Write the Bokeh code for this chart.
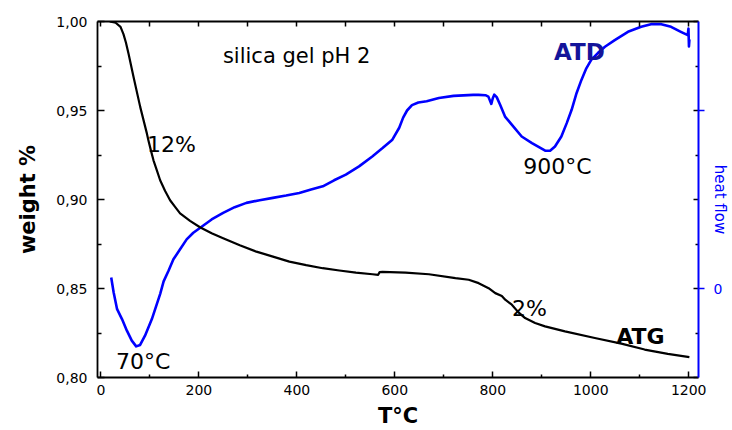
from bokeh.plotting import figure
from bokeh.models import Range1d, LinearAxis, FixedTicker, Label
from bokeh.embed import file_html
from bokeh.resources import INLINE

# ---------------- data ----------------
temp_ticks = [0, 200, 400, 600, 800, 1000, 1200]
temp_minor = [100, 300, 500, 700, 900, 1100]
temp_tick_labels = ["0", "200", "400", "600", "800", "1000", "1200"]
top_ticks = [0, 100, 200, 300, 400, 500, 600, 700, 800, 900, 1000, 1100, 1200]

weight_ticks = [0.80, 0.85, 0.90, 0.95, 1.00]
weight_minor = [0.825, 0.875, 0.925, 0.975]
weight_tick_labels = ["0,80", "0,85", "0,90", "0,95", "1,00"]

heat_ticks = [0, 1]
heat_tick_labels = ["0", ""]

# ATG (weight fraction vs temperature)
atg_T = [18, 30, 40, 46, 51, 56.5, 66.7, 80.3, 93.9, 97, 102, 107.3, 114.2, 120.9, 131.1,
         141.2, 151.4, 161.6, 181.9, 202.2, 226, 249.5, 283.5, 317.4, 351.2, 384.7, 419,
         452.8, 486.7, 520.6, 554.4, 566, 569, 574.7, 622, 669.6, 723.8, 750.9, 771.2,
         791.5, 805.1, 818.5, 825.4, 838.9, 852.5, 866, 886.4, 906.7, 947.4, 1008.3,
         1062.4, 1110, 1157.3, 1201.4]
atg_w = [1.000, 0.9993, 0.9970, 0.9929, 0.9882, 0.9818, 0.9687, 0.9519, 0.9370, 0.9332,
         0.9276, 0.9220, 0.9164, 0.9108, 0.9048, 0.8996, 0.8959, 0.8922, 0.8880, 0.8844,
         0.8810, 0.8782, 0.8743, 0.8707, 0.8679, 0.8651, 0.8631, 0.8614, 0.8601, 0.8589,
         0.8580, 0.8577, 0.8592, 0.8593, 0.8589, 0.8580, 0.8558, 0.8549, 0.8530, 0.8502,
         0.8474, 0.8458, 0.8437, 0.8409, 0.8366, 0.8334, 0.8306, 0.8287, 0.8259, 0.8222,
         0.8190, 0.8157, 0.8133, 0.8114]

# ATD (heat flow, arbitrary units)
atd_T = [21, 26, 33, 43, 53, 63, 72, 80, 90, 104, 121, 128, 138, 148, 161.6, 175, 188.6,
         205.6, 226, 249.5, 273, 297, 324, 351, 378, 405, 429, 453, 476, 500, 527, 554,
         575, 595, 609, 617, 625, 635, 648, 665, 690, 720, 760, 771, 785, 791, 797, 800,
         803, 808, 815, 825, 859, 880, 907, 917, 927, 940, 951, 961, 971, 981, 991, 1001,
         1015, 1029, 1049, 1076, 1103, 1123, 1144, 1164, 1184, 1198, 1199.5, 1200.5, 1201.5]
atd_h = [0.062, -0.022, -0.116, -0.172, -0.237, -0.293, -0.325, -0.317, -0.265, -0.172,
         -0.030, 0.040, 0.100, 0.164, 0.220, 0.276, 0.313, 0.347, 0.388, 0.425, 0.457,
         0.481, 0.496, 0.509, 0.522, 0.537, 0.556, 0.574, 0.608, 0.640, 0.686, 0.742,
         0.789, 0.836, 0.903, 0.960, 1.000, 1.030, 1.045, 1.052, 1.070, 1.082, 1.088,
         1.088, 1.086, 1.078, 1.037, 1.069, 1.089, 1.075, 1.032, 0.966, 0.854, 0.817,
         0.774, 0.774, 0.798, 0.854, 0.929, 1.004, 1.097, 1.172, 1.237, 1.284, 1.324,
         1.358, 1.395, 1.442, 1.470, 1.485, 1.485, 1.470, 1.442, 1.423, 1.460, 1.360, 1.400]

annot_texts = ["silica gel pH 2", "12%", "900°C", "2%", "70°C"]

FONT = "DejaVu Sans"
BLUE = "#0000ff"

# ---------------- figure ----------------
p = figure(width=732, height=430, x_range=Range1d(-7, 1220), y_range=Range1d(0.80, 1.00),
           output_backend="svg", toolbar_location=None,
           x_axis_location=None, y_axis_location=None)
p.extra_y_ranges = {"heat": Range1d(-0.5, 1.5)}
p.grid.visible = False
p.outline_line_color = None
p.background_fill_color = "white"
p.border_fill_color = "white"
p.min_border_left = 97
p.min_border_right = 31
p.min_border_top = 21
p.min_border_bottom = 52

# bottom axis
xb = LinearAxis(ticker=FixedTicker(ticks=temp_ticks, minor_ticks=temp_minor),
                major_label_overrides=dict(zip(temp_ticks, temp_tick_labels)))
xb.axis_label = "T°C"
xb.axis_label_text_font = FONT
xb.axis_label_text_font_style = "bold"
xb.axis_label_text_font_size = "21px"
xb.axis_label_text_color = "black"
xb.axis_label_standoff = 6
xb.major_label_text_font = FONT
xb.major_label_text_font_size = "14px"
xb.major_label_text_color = "black"
xb.major_label_standoff = 7
xb.major_tick_in = 6
xb.major_tick_out = 0
xb.minor_tick_in = 3
xb.minor_tick_out = 0
xb.axis_line_width = 1.8
xb.major_tick_line_width = 1.5
xb.minor_tick_line_width = 1.5
p.add_layout(xb, "below")

# top axis (mirror ticks)
xt = LinearAxis(ticker=FixedTicker(ticks=top_ticks, minor_ticks=[]),
                major_label_overrides={t: "" for t in top_ticks})
xt.major_label_text_font_size = "0px"
xt.major_label_standoff = 0
xt.major_tick_in = 5
xt.major_tick_out = 0
xt.axis_line_width = 1.8
xt.major_tick_line_width = 1.5
p.add_layout(xt, "above")

# left axis
yl = LinearAxis(ticker=FixedTicker(ticks=weight_ticks, minor_ticks=weight_minor),
                major_label_overrides=dict(zip(weight_ticks, weight_tick_labels)))
yl.axis_label = "weight %"
yl.axis_label_text_font = FONT
yl.axis_label_text_font_style = "bold"
yl.axis_label_text_font_size = "21px"
yl.axis_label_text_color = "black"
yl.axis_label_standoff = 13
yl.major_label_text_font = FONT
yl.major_label_text_font_size = "14px"
yl.major_label_text_color = "black"
yl.major_label_standoff = 10
yl.major_tick_in = 7
yl.major_tick_out = 0
yl.minor_tick_in = 4
yl.minor_tick_out = 0
yl.axis_line_width = 1.8
yl.major_tick_line_width = 1.5
yl.minor_tick_line_width = 1.5
p.add_layout(yl, "left")

# right mirror ticks (black, inward)
yr0 = LinearAxis(ticker=FixedTicker(ticks=weight_ticks, minor_ticks=weight_minor),
                 major_label_overrides={t: "" for t in weight_ticks})
yr0.major_label_text_font_size = "0px"
yr0.major_label_standoff = 0
yr0.axis_line_color = None
yr0.major_tick_in = 5
yr0.major_tick_out = 0
yr0.minor_tick_in = 3
yr0.minor_tick_out = 0
yr0.major_tick_line_width = 1.5
yr0.minor_tick_line_width = 1.5
p.add_layout(yr0, "right")

# right heat-flow axis (blue)
yr = LinearAxis(y_range_name="heat", ticker=FixedTicker(ticks=heat_ticks, minor_ticks=[]),
                major_label_overrides=dict(zip(heat_ticks, heat_tick_labels)))
yr.axis_label = "heat flow"
yr.axis_label_text_font = FONT
yr.axis_label_text_font_style = "normal"
yr.axis_label_text_font_size = "15px"
yr.axis_label_text_color = BLUE
yr.axis_label_standoff = -14
yr.major_label_text_font = FONT
yr.major_label_text_font_size = "14px"
yr.major_label_text_color = BLUE
yr.major_label_standoff = 9
yr.major_tick_in = 0
yr.major_tick_out = 6
yr.axis_line_color = BLUE
yr.axis_line_width = 2
yr.major_tick_line_color = BLUE
yr.major_tick_line_width = 1.5
p.add_layout(yr, "right")

# ---------------- curves ----------------
p.line(atd_T, atd_h, y_range_name="heat", line_color=BLUE, line_width=2.6,
       line_join="round")
p.line(atg_T, atg_w, line_color="black", line_width=2.2, line_join="round")

# ---------------- annotations ----------------
def add_label(x, y, text, size, color="black", bold=False):
    p.add_layout(Label(x=x, y=y, text=text, text_font=FONT, text_font_size=size,
                       text_color=color, text_font_style="bold" if bold else "normal",
                       text_baseline="alphabetic", text_align="left"))

add_label(249, 0.9808, annot_texts[0], "21px")
add_label(94, 0.9308, annot_texts[1], "22px")
add_label(862, 0.9183, annot_texts[2], "22px")
add_label(839, 0.8390, annot_texts[3], "22px")
add_label(31, 0.8091, annot_texts[4], "22px")
add_label(925, 0.9827, "ATD", "23px", color="#14149a", bold=True)
add_label(1052, 0.8228, "ATG", "22px", color="black", bold=True)

open("out.html", "w").write(file_html(p, INLINE))
